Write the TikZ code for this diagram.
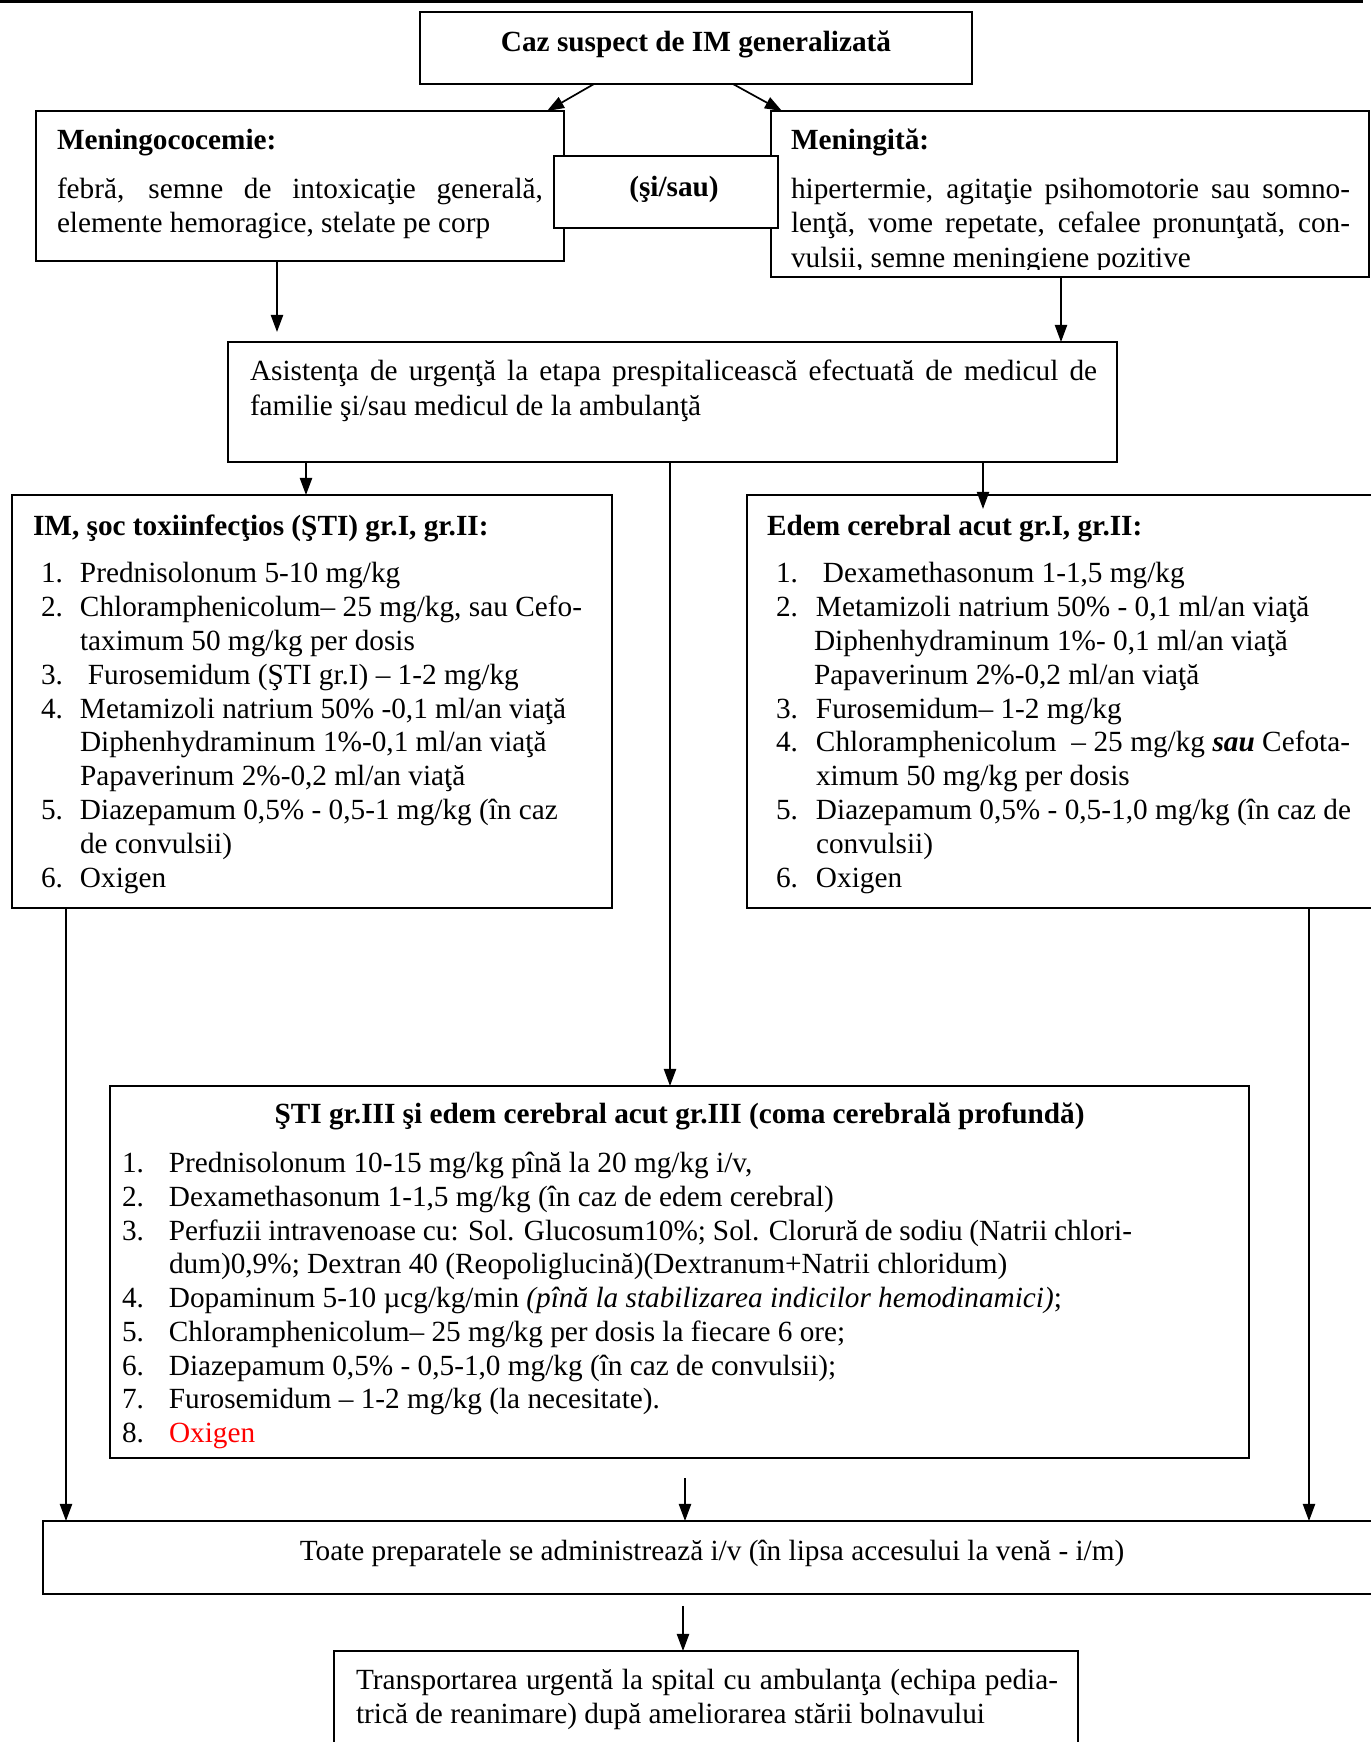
\documentclass[tikz,border=0pt]{standalone}
\usepackage{fontspec}
\setmainfont{Liberation Serif}
\usetikzlibrary{arrows.meta,calc}
\newlength\pxu
\setlength\pxu{0.41pt}
\newcommand\jus[2]{\makebox[#1\pxu][s]{#2}}
\newcommand\itm[3]{\makebox[#1\pxu][l]{#2}#3}
\newcommand\mkbox[5]{\node[box, minimum width={(#4-#2)*0.41pt}, minimum height={(#5-#3)*0.41pt}] (#1) at (#2,#3) {};}
\tikzset{
  box/.style={draw, line width=0.8pt, fill=white, inner sep=0pt, outer sep=0pt, anchor=north west},
  txt/.style={anchor=base west, inner sep=0pt, outer sep=0pt},
  ctxt/.style={anchor=base, inner sep=0pt, outer sep=0pt},
  arr/.style={-{Triangle[width=5pt,length=7pt]}, line width=0.7pt},
}
\begin{document}
\begin{tikzpicture}[x=0.41pt,y=-0.41pt, font=\fontsize{12}{13.9}\selectfont]
\useasboundingbox (0,0) rectangle (1371,1742);
\clip (0,0) rectangle (1371,1742);
\draw[line width=0.9pt] (0,1.5) -- (1363,1.5);

% boxes
\mkbox{title}{420}{12}{972}{84}
\mkbox{mc}{36}{111}{564}{261}
\mkbox{mg}{771}{111}{1369}{277}
\mkbox{sisau}{554}{156}{778}{228}
\mkbox{as}{228}{342}{1117}{462}
\mkbox{im}{12}{495}{612}{908}
\mkbox{ed}{747}{495}{1385}{908}
\mkbox{st}{110}{1086}{1249}{1458}
\mkbox{toate}{43}{1521}{1385}{1594}
\mkbox{tr}{334}{1651}{1078}{1780}

% title
\node[ctxt] (t0) at (696,51) {\textbf{Caz suspect de IM generalizată}};
% meningococemie
\node[txt] (mc0) at (57,149) {\textbf{Meningococemie:}};
\node[txt] (mc1) at (57,198) {\jus{486}{febră, semne de intoxicaţie generală,}};
\node[txt] (mc2) at (57,232) {elemente hemoragice, stelate pe corp};
% si/sau
\node[ctxt] (ss) at (674,196) {\textbf{(şi/sau)}};
% meningita
\node[txt] (mg0) at (791,149) {\textbf{Meningită:}};
\node[txt] (mg1) at (791,198) {\jus{559}{hipertermie, agitaţie psihomotorie sau somno-}};
\node[txt] (mg2) at (791,232) {\jus{559}{lenţă, vome repetate, cefalee pronunţată, con-}};
\begin{scope}
\clip (771,111) rectangle (1369,269);
\node[txt] (mg3) at (791,267) {vulsii, semne meningiene pozitive};
\end{scope}
% asistenta
\node[txt] (as1) at (250,380) {\jus{847}{Asistenţa de urgenţă la etapa prespitalicească efectuată de medicul de}};
\node[txt] (as2) at (250,415) {familie şi/sau medicul de la ambulanţă};

% IM box
\node[txt] (im0) at (33,535) {\textbf{IM, şoc toxiinfecţios (ŞTI) gr.I, gr.II:}};
\node[txt] (im1) at (41,582) {\itm{39}{1.}{Prednisolonum 5-10 mg/kg}};
\node[txt] (im2) at (41,616) {\itm{39}{2.}{\jus{502}{Chloramphenicolum– 25 mg/kg, sau Cefo-}}};
\node[txt] (im3) at (80,650) {taximum 50 mg/kg per dosis};
\node[txt] (im4) at (41,684) {\itm{47}{3.}{Furosemidum (ŞTI gr.I) – 1-2 mg/kg}};
\node[txt] (im5) at (41,718) {\itm{39}{4.}{Metamizoli natrium 50\% -0,1 ml/an viaţă}};
\node[txt] (im6) at (80,751) {Diphenhydraminum 1\%-0,1 ml/an viaţă};
\node[txt] (im7) at (80,785) {Papaverinum 2\%-0,2 ml/an viaţă};
\node[txt] (im8) at (41,819) {\itm{39}{5.}{Diazepamum 0,5\% - 0,5-1 mg/kg (în caz}};
\node[txt] (im9) at (80,853) {de convulsii)};
\node[txt] (im10) at (41,887) {\itm{39}{6.}{Oxigen}};

% Edem box
\node[txt] (ed0) at (767,535) {\textbf{Edem cerebral acut gr.I, gr.II:}};
\node[txt] (ed1) at (776,582) {\itm{47}{1.}{Dexamethasonum 1-1,5 mg/kg}};
\node[txt] (ed2) at (776,616) {\itm{40}{2.}{Metamizoli natrium 50\% - 0,1 ml/an viaţă}};
\node[txt] (ed3) at (814,650) {Diphenhydraminum 1\%- 0,1 ml/an viaţă};
\node[txt] (ed4) at (814,684) {Papaverinum 2\%-0,2 ml/an viaţă};
\node[txt] (ed5) at (776,718) {\itm{40}{3.}{Furosemidum– 1-2 mg/kg}};
\node[txt] (ed6) at (776,751) {\itm{40}{4.}{\jus{534}{Chloramphenicolum \ – 25 mg/kg \textbf{\textit{sau}} Cefota-}}};
\node[txt] (ed7) at (816,785) {ximum 50 mg/kg per dosis};
\node[txt] (ed8) at (776,819) {\itm{40}{5.}{\jus{535}{Diazepamum 0,5\% - 0,5-1,0 mg/kg (în caz de}}};
\node[txt] (ed9) at (816,853) {convulsii)};
\node[txt] (ed10) at (776,887) {\itm{40}{6.}{Oxigen}};

% STI III box
\node[ctxt] (st0) at (679.5,1123) {\textbf{ŞTI gr.III şi edem cerebral acut gr.III (coma cerebrală profundă)}};
\node[txt] (st1) at (122,1172) {\itm{47}{1.}{Prednisolonum 10-15 mg/kg pînă la 20 mg/kg i/v,}};
\node[txt] (st2) at (122,1206) {\itm{47}{2.}{Dexamethasonum 1-1,5 mg/kg (în caz de edem cerebral)}};
\node[txt] (st3) at (122,1240) {\itm{47}{3.}{\jus{963}{Perfuzii intravenoase cu: Sol. Glucosum10\%; Sol. Clorură de sodiu (Natrii chlori-}}};
\node[txt] (st4) at (169,1273) {dum)0,9\%; Dextran 40 (Reopoliglucină)(Dextranum+Natrii chloridum)};
\node[txt] (st5) at (122,1307) {\itm{47}{4.}{Dopaminum 5-10 µcg/kg/min \textit{(pînă la stabilizarea indicilor hemodinamici)};}};
\node[txt] (st6) at (122,1341) {\itm{47}{5.}{Chloramphenicolum– 25 mg/kg per dosis la fiecare 6 ore;}};
\node[txt] (st7) at (122,1375) {\itm{47}{6.}{Diazepamum 0,5\% - 0,5-1,0 mg/kg (în caz de convulsii);}};
\node[txt] (st8) at (122,1408) {\itm{47}{7.}{Furosemidum – 1-2 mg/kg (la necesitate).}};
\node[txt] (st9) at (122,1442) {\itm{47}{8.}{\textcolor{red}{Oxigen}}};

% Toate
\node[ctxt] (to1) at (712,1560) {Toate preparatele se administrează i/v (în lipsa accesului la venă - i/m)};
% Transportarea
\node[txt] (tr1) at (356,1689) {\jus{702}{Transportarea urgentă la spital cu ambulanţa (echipa pedia-}};
\node[txt] (tr2) at (356,1723) {trică de reanimare) după ameliorarea stării bolnavului};

% connectors
\draw[arr] ($(title.south west)+(174,0)$) -- ($(mc.north west)+(511,0)$);
\draw[arr] ($(title.south west)+(313,0)$) -- ($(mg.north west)+(11,0)$);
\draw[arr, shorten >=4.1pt] ($(mc.south west)+(241,0)$) -- ($(as.north west)+(49,0)$);
\draw[arr] ($(mg.south west)+(290,0)$) -- ($(as.north west)+(833,0)$);
\draw[arr] ($(as.south west)+(78,0)$) -- ($(im.north west)+(294,0)$);
\draw[arr, shorten >=-5.7pt] ($(as.south west)+(755,0)$) -- ($(ed.north west)+(236,0)$);
\draw[arr] ($(as.south west)+(442,0)$) -- ($(st.north west)+(560,0)$);
\draw[arr] ($(im.south west)+(54,0)$) -- ($(toate.north west)+(23,0)$);
\draw[arr] ($(ed.south west)+(562,0)$) -- ($(toate.north west)+(1266,0)$);
\draw[arr, shorten <=8.2pt] ($(st.south west)+(575,0)$) -- ($(toate.north west)+(642,0)$);
\draw[arr, shorten <=4.9pt] ($(toate.south west)+(640,0)$) -- ($(tr.north west)+(349,0)$);
\end{tikzpicture}
\end{document}
